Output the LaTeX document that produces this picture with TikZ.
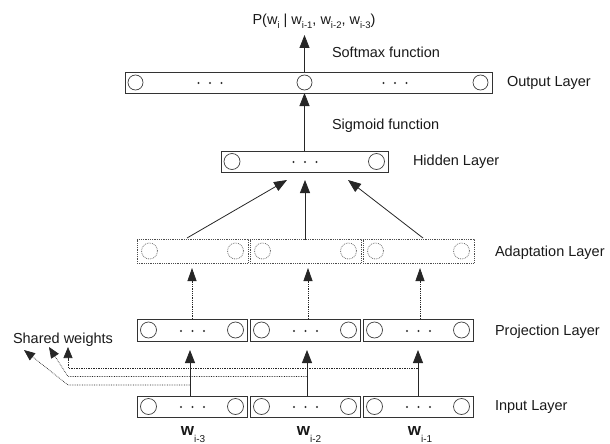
\documentclass[tikz,border=0pt]{standalone}
\usepackage{fontspec}
\setmainfont{Liberation Sans}
\usetikzlibrary{arrows.meta,calc}
\newcommand{\threedots}[2]{\foreach \dx in {-11.5,0,11.5}{\fill[black!80] (#1+\dx,#2) circle (1.2pt);}}
\newcommand{\lowsub}[1]{\raisebox{-4pt}{\fontsize{9.5}{10}\selectfont #1}}
\newcommand{\wsub}[1]{\raisebox{-7pt}{\fontsize{10}{10}\selectfont #1}}
\begin{document}
\begin{tikzpicture}[x=1pt,y=-1pt,
  font=\fontsize{14.5}{17}\selectfont,
  every node/.style={inner sep=0pt, outer sep=0pt},
  layer/.style={draw=black!80, line width=0.8pt, rectangle, minimum height=21pt},
  alayer/.style={draw=black!70, densely dotted, line width=0.8pt, rectangle, minimum height=24pt, minimum width=111pt},
  unit/.style={draw=black!75, line width=0.7pt, circle, minimum size=16pt},
  ounit/.style={draw=black!75, line width=0.7pt, circle, minimum size=15pt},
  aunit/.style={draw=black!55, densely dotted, line width=0.8pt, circle, minimum size=16pt},
  arr/.style={draw=black!85, line width=0.8pt, -{Triangle[length=13pt,width=10pt]}},
  darr/.style={draw=black!85, densely dotted, line width=0.8pt, -{Triangle[length=13pt,width=9pt]}},
  sline/.style={draw=black!85, densely dotted, line width=0.7pt},
  stip/.style={draw=black!85, fill=black!85, solid, line width=0.7pt, -{Triangle[length=11pt,width=9pt]}},
  lbl/.style={anchor=west, text=black!90},
  wl/.style={text=black!90},
]
\useasboundingbox (0,0) rectangle (610,444);

% ---- output layer
\node[layer, minimum width=367pt] (out) at (308.5,82.5) {};
\node[ounit] (o1) at (135.5,82.5) {};
\node[ounit] (o2) at (304.5,82.5) {};
\node[ounit] (o3) at (480.5,82.5) {};
\threedots{210}{83}
\threedots{395}{83}
\node[lbl] (outlbl) at (507,83) {Output Layer};

% ---- probability
\node[wl] (prob) at (314,21) {P(w\lowsub{i} | w\lowsub{i-1}, w\lowsub{i-2}, w\lowsub{i-3})};
\coordinate (ptip) at (304.5,35);
\draw[arr] (o2.north |- out.north) -- (ptip);
\node[lbl] (softmax) at (332,52) {Softmax function};

% ---- hidden layer
\node[layer, minimum width=167pt] (hid) at (304.5,161.5) {};
\node[unit] (h1) at (232,161.5) {};
\node[unit] (h2) at (376.5,161.5) {};
\threedots{305}{162}
\node[lbl] (hidlbl) at (413,162) {Hidden Layer};
\node[lbl] (sigmoid) at (332,126) {Sigmoid function};
\draw[arr] (o2 |- hid.north) -- (o2 |- out.south);

% ---- adaptation layer
\foreach \i/\cx in {1/192.5, 2/305.5, 3/418.5}{
  \node[alayer] (a\i) at (\cx,251) {};
  \node[aunit] (a\i l) at (\cx-43,251) {};
  \node[aunit] (a\i r) at (\cx+43,251) {};
}
\node[lbl] (adlbl) at (495,253) {Adaptation Layer};

% adaptation -> hidden
\coordinate (t1) at (187,238);   \coordinate (e1) at (287,180);
\coordinate (t2) at (305,240);   \coordinate (e2) at (305,180);
\coordinate (t3) at (423,238);   \coordinate (e3) at (348,180);
\draw[arr] (t1) -- (e1);
\draw[arr] (t2) -- (e2);
\draw[arr] (t3) -- (e3);

% ---- projection layer
\foreach \i/\cx in {1/192.5, 2/305.5, 3/418.5}{
  \node[layer, minimum width=110pt, minimum height=22pt] (p\i) at (\cx,330) {};
  \node[unit] (p\i l) at (\cx-44,330) {};
  \node[unit] (p\i r) at (\cx+43,330) {};
  \threedots{\cx}{331}
}
\node[lbl] (projlbl) at (495,332) {Projection Layer};

% projection -> adaptation (dotted)
\foreach \i/\ax in {1/192, 2/308, 3/420}{
  \coordinate (pa\i) at (\ax,268);
  \draw[darr] (\ax,0 |- p\i.north) -- (pa\i);
}

% ---- input layer
\foreach \i/\cx in {1/192.5, 2/305.5, 3/418.5}{
  \node[layer, minimum width=110pt, minimum height=21pt] (in\i) at (\cx,406.5) {};
  \node[unit] (in\i l) at (\cx-44,406.5) {};
  \node[unit] (in\i r) at (\cx+43,406.5) {};
  \threedots{\cx}{407}
}
\node[lbl] (inlbl) at (495,407) {Input Layer};

% input -> projection
\foreach \i/\ax in {1/190, 2/307, 3/418}{
  \coordinate (ip\i) at (\ax,350);
  \draw[arr] (\ax,0 |- in\i.north) -- (ip\i);
}

% ---- word labels
\node[wl] (w3) at (193,435) {\fontsize{17}{17}\selectfont\textbf{w}\wsub{i-3}};
\node[wl] (w2) at (309,435) {\fontsize{17}{17}\selectfont\textbf{w}\wsub{i-2}};
\node[wl] (w1) at (420,435) {\fontsize{17}{17}\selectfont\textbf{w}\wsub{i-1}};

% ---- shared weights
\node[lbl] (shared) at (13,340) {Shared weights};
\coordinate (s1) at (68,347);
\coordinate (s2) at (49,347);
\coordinate (s3) at (24,350);
\coordinate (k1) at (68,368);
\coordinate (k2) at (68,376.5);
\coordinate (k3) at (68,385);
\draw[sline] (ip3 |- k1) -- (k1) -- ($(s1)!6pt!(k1)$);
\draw[sline] (ip2 |- k2) -- (k2) -- ($(s2)!6pt!(k2)$);
\draw[sline] (ip1 |- k3) -- (k3) -- ($(s3)!6pt!(k3)$);
\draw[stip] ($(s1)!11pt!(k1)$) -- (s1);
\draw[stip] ($(s2)!11pt!(k2)$) -- (s2);
\draw[stip] ($(s3)!11pt!(k3)$) -- (s3);
\end{tikzpicture}
\end{document}
